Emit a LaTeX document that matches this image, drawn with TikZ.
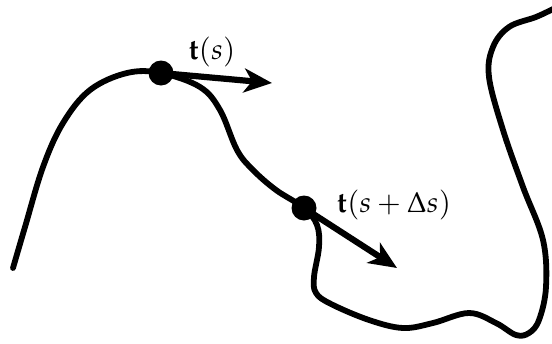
\documentclass[tikz,border=0pt]{standalone}
\usepackage{mathpazo}
\usetikzlibrary{arrows.meta}
\begin{document}
\begin{tikzpicture}[x=0.5pt, y=-0.5pt,
      curve/.style={line width=2.9pt, line cap=round, line join=round},
      pt/.style={circle, fill, inner sep=0pt, minimum size=12.5pt},
      tang/.style={line width=3.1pt, -{Stealth[length=14pt, width=12pt, inset=4pt]}},
      lab/.style={font=\Large}
    ]
    \useasboundingbox (0,0) rectangle (552,343);

    % Curve
    \draw[curve] plot[smooth, tension=0.6] coordinates {
      (13,268) (25,227) (43,167) (63,123) (90,90) (127,73) (161,73)
      (200,87) (220,110) (237,150) (253,170) (276,190) (304,208)
      (317,225) (319,247) (314,277) (316,293) (331,304) (369,320)
      (403,328) (433,323) (469,313) (496,323) (516,335) (529,333)
      (539,320) (546,287) (543,240) (523,187) (503,130) (489,77)
      (493,47) (509,27) (536,17) (553,9)};

    % Points and tangents
    \node[pt] (s1) at (161,73) {};
    \node[pt] (s2) at (304,208) {};
    \coordinate (t1) at (272,83);
    \coordinate (t2) at (397,268);
    \draw[tang] (s1.center) -- (t1);
    \draw[tang] (s2.center) -- (t2);

    \node[lab] (l1) at (212,52) {$\mathbf{t}(s)$};
    \node[lab] (l2) at (394,205) {$\mathbf{t}(s+\Delta s)$};
  \end{tikzpicture}
\end{document}
